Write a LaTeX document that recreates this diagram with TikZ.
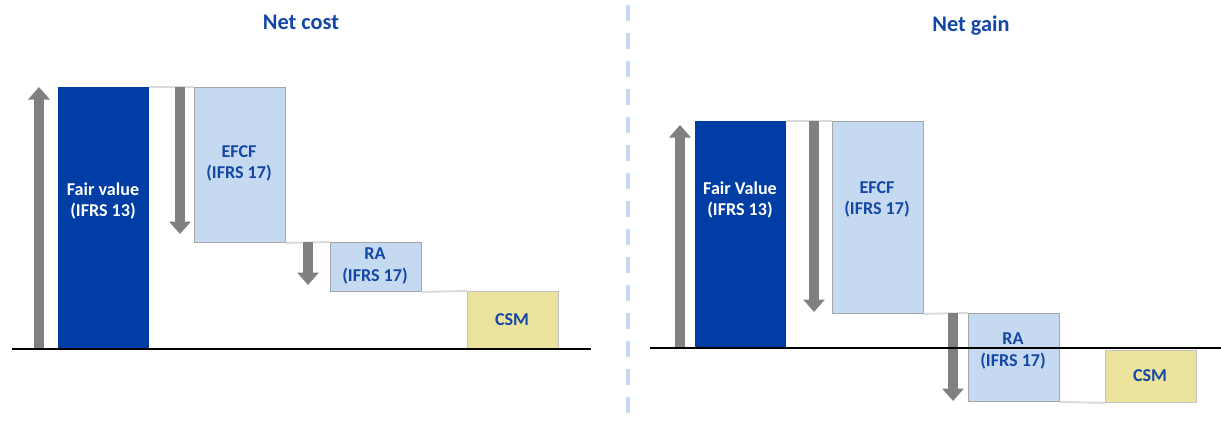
\documentclass[tikz,border=0pt]{standalone}
\usepackage{fontspec}
\setmainfont{Carlito}
\usetikzlibrary{arrows.meta}
\definecolor{darkblue}{HTML}{003DA5}
\definecolor{paleblue}{HTML}{C5D9F1}
\definecolor{paleyellow}{HTML}{ECE49C}
\definecolor{txtblue}{HTML}{1347A6}
\definecolor{arrowgrey}{HTML}{808080}
\definecolor{stepgrey}{HTML}{DADADA}
\definecolor{edgegrey}{HTML}{A6A6A6}
\begin{document}
\begin{tikzpicture}[x=0.2mm, y=-0.2mm,
	bar/.style={anchor=north west, inner sep=0pt, minimum width=1.81cm},
	fvbar/.style={bar, fill=darkblue},
	ifrsbar/.style={bar, fill=paleblue, draw=edgegrey, line width=0.5pt},
	csmbar/.style={bar, fill=paleyellow, draw=edgegrey!70, line width=0.5pt},
	bartext/.style={font=\fontsize{10.3}{12}\selectfont\bfseries, text=txtblue, align=center, inner sep=0pt},
	headtext/.style={font=\fontsize{12.7}{15}\selectfont\bfseries, text=txtblue},
	stepline/.style={draw=stepgrey, line width=1.1pt},
	bigarrow/.style={draw=arrowgrey, line width=0.2cm, -{Triangle[width=0.42cm, length=0.25cm]}},
	axis/.style={draw=black, line width=0.9pt}]
	
	\useasboundingbox (0,0) rectangle (1221,423);
	
	\draw [paleblue, line width=0.85mm, dash pattern=on 0.32cm off 0.24cm] (628,5) -- (628,423);
	
	% net cost
	\node [headtext] (costhead) at (301,22) {Net cost};
	
	\node [fvbar, minimum height=5.24cm] (fvL) at (58,87) {};
	
	\node [ifrsbar, minimum height=3.1cm] (efL) at (194,87) {};
	
	\node [ifrsbar, minimum height=0.98cm] (raL) at (330,242) {};
	
	\node [csmbar, minimum height=1.16cm] (csL) at (467,291) {};
	
	\draw [stepline] (fvL.north east) -- (efL.north west);
	\draw [stepline] (efL.south east) -- (raL.north west);
	\draw [stepline] (raL.south east) -- (csL.north west);
	
	\node [bartext, text=white] (fvLtext) at (103,201) {Fair value\\(IFRS 13)};
	\node [bartext] (efLtext) at (239,163) {EFCF\\(IFRS 17)};
	\node [bartext] (raLtext) at (375,266) {RA\\(IFRS 17)};
	\node [bartext] (csLtext) at (512,320) {CSM};
	
	\coordinate (upLa) at (39,349);
	\coordinate (upLb) at (39,87);
	\coordinate (dnLa) at (180,87);
	\coordinate (dnLb) at (180,234);
	\coordinate (dnLc) at (308,242);
	\coordinate (dnLd) at (308,285);
	
	\draw [bigarrow] (upLa) -- (upLb);
	\draw [bigarrow] (dnLa) -- (dnLb);
	\draw [bigarrow] (dnLc) -- (dnLd);
	
	\coordinate (axLa) at (12,349);
	\coordinate (axLb) at (591,349);
	\draw [axis] (axLa) -- (axLb);
	
	% net gain
	\node [headtext] (gainhead) at (971,26) {Net gain};
	
	\node [fvbar, minimum height=4.54cm] (fvR) at (695,121) {};
	
	\node [ifrsbar, minimum height=3.84cm] (efR) at (832,121) {};
	
	\node [ifrsbar, minimum height=1.76cm] (raR) at (968,313) {};
	
	\node [csmbar, minimum height=1.04cm] (csR) at (1105,350) {};
	
	\draw [stepline] (fvR.north east) -- (efR.north west);
	\draw [stepline] (efR.south east) -- (raR.north west);
	\draw [stepline] (raR.south east) -- (csR.south west);
	
	\node [bartext, text=white] (fvRtext) at (740,200) {Fair Value\\(IFRS 13)};
	\node [bartext] (efRtext) at (877,199) {EFCF\\(IFRS 17)};
	\node [bartext] (raRtext) at (1013,351) {RA\\(IFRS 17)};
	\node [bartext] (csRtext) at (1150,376) {CSM};
	
	\coordinate (upRa) at (680,348);
	\coordinate (upRb) at (680,125);
	\coordinate (dnRa) at (814,121);
	\coordinate (dnRb) at (814,312);
	\coordinate (dnRc) at (953,313);
	\coordinate (dnRd) at (953,401);
	
	\draw [bigarrow] (upRa) -- (upRb);
	\draw [bigarrow] (dnRa) -- (dnRb);
	\draw [bigarrow] (dnRc) -- (dnRd);
	
	\coordinate (axRa) at (650,348);
	\coordinate (axRb) at (1221,348);
	\draw [axis] (axRa) -- (axRb);
	
\end{tikzpicture}
\end{document}
